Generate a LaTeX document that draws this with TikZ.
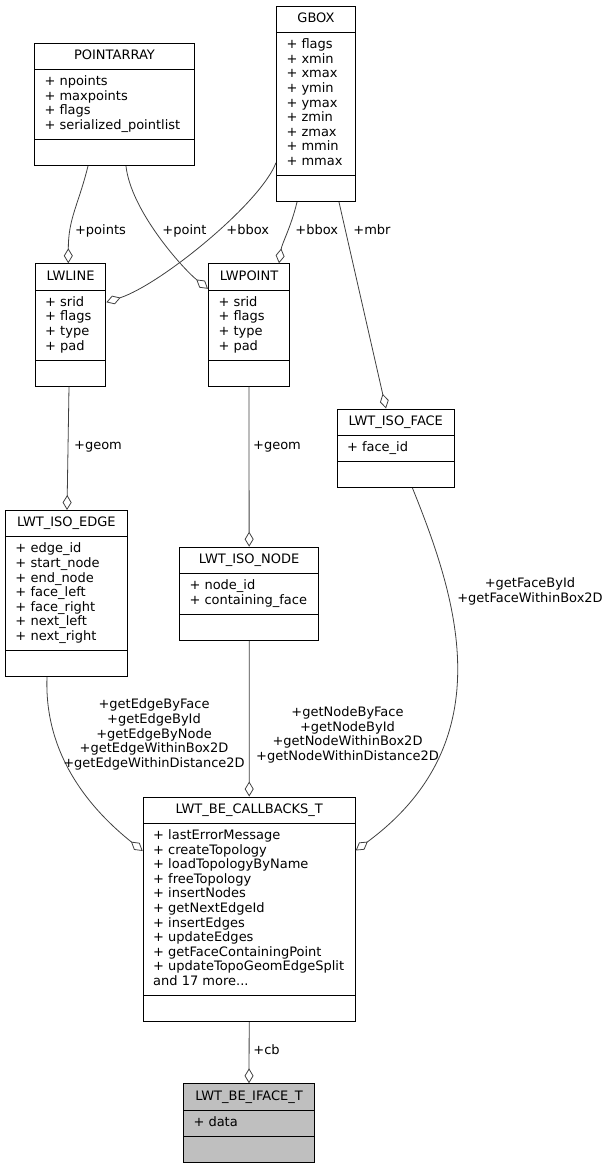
\documentclass[tikz,border=0pt]{standalone}
\usepackage{fontspec}
\setmainfont{DejaVu Sans}
\usepackage{tikz}
\usetikzlibrary{shapes.multipart,arrows.meta}

\definecolor{edgegray}{HTML}{404040}
\definecolor{ifacegray}{HTML}{BFBFBF}
\newcommand{\cstrut}{\rule[-4.2pt]{0pt}{14.6pt}}
\newcommand{\fld}[1]{\cstrut+ #1}

\begin{document}
\begin{tikzpicture}[x=1pt, y=-1pt, font=\fontsize{13}{14.6}\selectfont,
  umlclass/.style={rectangle split, rectangle split parts=3, draw, line width=1pt,
    anchor=north west, inner xsep=10pt, inner ysep=5.3pt, align=left,
    rectangle split part align={center,left,left},
    rectangle split empty part height=10.4pt, rectangle split empty part depth=4.2pt},
  assoc/.style={draw=edgegray, line width=0.8pt, -{Diamond[open,length=15pt,width=9pt]}},
  lbl/.style={inner sep=0pt, align=center}]
  \useasboundingbox (0,0) rectangle (609,1165);

  % classes
  \node[umlclass, minimum width=79pt] (gbox) at (276,5.7)
    {\cstrut GBOX
     \nodepart{two}\fld{flags}\\\fld{xmin}\\\fld{xmax}\\\fld{ymin}\\\fld{ymax}\\\fld{zmin}\\\fld{zmax}\\\fld{mmin}\\\fld{mmax}
     \nodepart{three}};
  \node[umlclass, minimum width=160pt] (parray) at (34,42.7)
    {\cstrut POINTARRAY
     \nodepart{two}\fld{npoints}\\\fld{maxpoints}\\\fld{flags}\\\fld{serialized\_pointlist}
     \nodepart{three}};
  \node[umlclass, minimum width=70.6pt] (lwline) at (34.7,263.3)
    {\cstrut LWLINE
     \nodepart{two}\fld{srid}\\\fld{flags}\\\fld{type}\\\fld{pad}
     \nodepart{three}};
  \node[umlclass, minimum width=81pt] (lwpoint) at (208,263.3)
    {\cstrut LWPOINT
     \nodepart{two}\fld{srid}\\\fld{flags}\\\fld{type}\\\fld{pad}
     \nodepart{three}};
  \node[umlclass, minimum width=117.5pt] (isoface) at (336.5,408.5)
    {\cstrut LWT\_ISO\_FACE
     \nodepart{two}\fld{face\_id}
     \nodepart{three}};
  \node[umlclass, minimum width=121.7pt] (isoedge) at (5,510)
    {\cstrut LWT\_ISO\_EDGE
     \nodepart{two}\fld{edge\_id}\\\fld{start\_node}\\\fld{end\_node}\\\fld{face\_left}\\\fld{face\_right}\\\fld{next\_left}\\\fld{next\_right}
     \nodepart{three}};
  \node[umlclass, minimum width=139.3pt] (isonode) at (179,546.7)
    {\cstrut LWT\_ISO\_NODE
     \nodepart{two}\fld{node\_id}\\\fld{containing\_face}
     \nodepart{three}};
  \node[umlclass, minimum width=212pt] (callbacks) at (142.7,796.5)
    {\cstrut LWT\_BE\_CALLBACKS\_T
     \nodepart{two}\fld{lastErrorMessage}\\\fld{createTopology}\\\fld{loadTopologyByName}\\\fld{freeTopology}\\\fld{insertNodes}\\\fld{getNextEdgeId}\\\fld{insertEdges}\\\fld{updateEdges}\\\fld{getFaceContainingPoint}\\\fld{updateTopoGeomEdgeSplit}\\\cstrut and 17 more...
     \nodepart{three}};
  \node[umlclass, minimum width=131pt, fill=ifacegray] (iface) at (183,1083.3)
    {\cstrut LWT\_BE\_IFACE\_T
     \nodepart{two}\fld{data}
     \nodepart{three}};

  % associations
  \draw[assoc] ([xshift=54pt]parray.south west) .. controls +(-10,40) and +(0,-45) .. ([xshift=33.6pt]lwline.north west);
  \draw[assoc] ([xshift=92pt]parray.south west) .. controls +(5,45) and +(-25,-20) .. ([yshift=-25.5pt]lwpoint.north west);
  \draw[assoc] ([yshift=-157pt]gbox.north west) .. controls +(-15,40) and +(55,-18) .. ([yshift=-39pt]lwline.north east);
  \draw[assoc] ([xshift=21pt]gbox.south west) .. controls +(-6,25) and +(3,-20) .. ([xshift=71pt]lwpoint.north west);
  \draw[assoc] ([xshift=63pt]gbox.south west) -- ([xshift=49.5pt]isoface.north west);
  \draw[assoc] ([xshift=34.3pt]lwline.south west) -- ([xshift=62pt]isoedge.north west);
  \draw[assoc] (lwpoint.south) -- (isonode.north);
  \draw[assoc] ([xshift=42pt]isoedge.south west) .. controls +(-3,80) and +(-50,-40) .. ([yshift=-54.5pt]callbacks.north west);
  \draw[assoc] (isonode.south) -- (callbacks.north);
  \draw[assoc] ([xshift=76pt]isoface.south west) .. controls +(42.5,105.7) and +(150,-110.5) .. ([yshift=-54pt]callbacks.north east);
  \draw[assoc] (callbacks.south) -- (iface.north);

  % labels
  \node[lbl] (lpoints) at (100.5,231) {\cstrut+points};
  \node[lbl] (lpoint) at (184.5,231) {\cstrut+point};
  \node[lbl] (lbbox1) at (247.8,231) {\cstrut+bbox};
  \node[lbl] (lbbox2) at (316.8,231) {\cstrut+bbox};
  \node[lbl] (lmbr) at (372,231) {\cstrut+mbr};
  \node[lbl] (lgeom1) at (98,446) {\cstrut+geom};
  \node[lbl] (lgeom2) at (277,446) {\cstrut+geom};
  \node[lbl] (ledge) at (154,735) {\cstrut+getEdgeByFace\\\cstrut+getEdgeById\\\cstrut+getEdgeByNode\\\cstrut+getEdgeWithinBox2D\\\cstrut+getEdgeWithinDistance2D};
  \node[lbl] (lnode) at (347.5,735.5) {\cstrut+getNodeByFace\\\cstrut+getNodeById\\\cstrut+getNodeWithinBox2D\\\cstrut+getNodeWithinDistance2D};
  \node[lbl] (lface) at (530,592) {\cstrut+getFaceById\\\cstrut+getFaceWithinBox2D};
  \node[lbl] (lcb) at (266.5,1051) {\cstrut+cb};
\end{tikzpicture}
\end{document}
